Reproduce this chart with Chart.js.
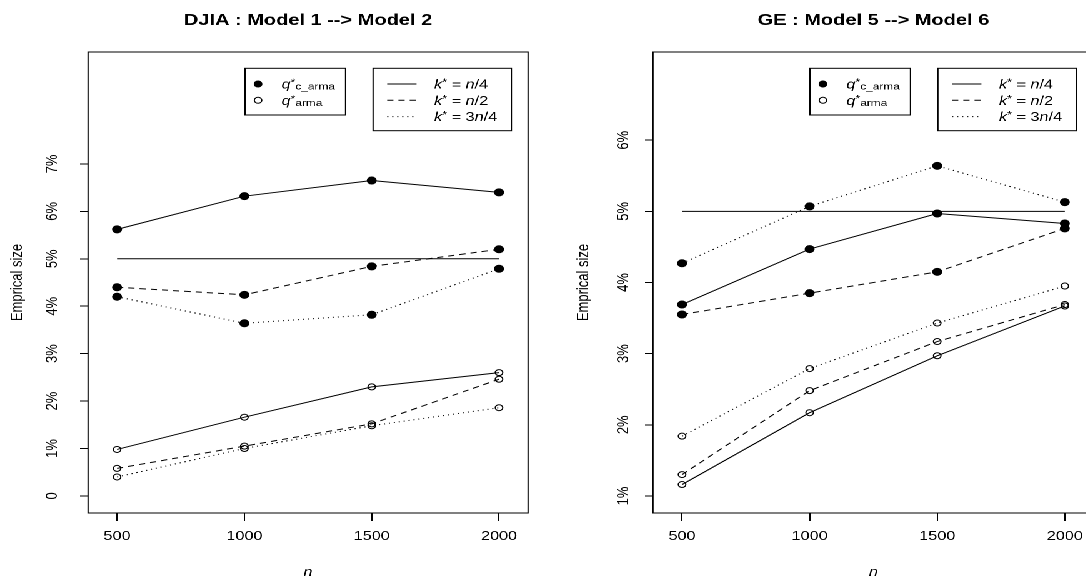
<!DOCTYPE html>
<html>
<head>
<meta charset="utf-8">
<script src="https://cdn.jsdelivr.net/npm/chart.js@4.4.1/dist/chart.umd.min.js"></script>
<style>
  html, body { margin: 0; padding: 0; background: #fff; overflow: hidden; width: 1086px; height: 576px; }
  /* the reference is stretched sideways, so draw narrow and widen the whole stage */
  #stage { position: absolute; left: 0; top: 0; width: 889px; height: 590px; transform: scaleX(1.25); transform-origin: 0 0; }
  #chartDJIA { position: absolute; left: 0; top: 0; }
  #chartGE { position: absolute; left: 434px; top: 0; }
</style>
</head>
<body>
<div id="stage">
  <canvas id="chartDJIA" width="434" height="590"></canvas>
  <canvas id="chartGE" width="455" height="590"></canvas>
</div>
<script>
const nValues = [500, 1000, 1500, 2000];
const nominalSize = 5;

// DJIA : Model 1 --> Model 2, empirical size in %
const djiaCarmaN4 = [5.62, 6.32, 6.65, 6.40];
const djiaCarmaN2 = [4.40, 4.24, 4.84, 5.20];
const djiaCarma3N4 = [4.20, 3.64, 3.82, 4.79];
const djiaArmaN4 = [0.98, 1.66, 2.30, 2.60];
const djiaArmaN2 = [0.58, 1.05, 1.52, 2.46];
const djiaArma3N4 = [0.40, 1.00, 1.48, 1.86];

// GE : Model 5 --> Model 6
const geCarmaN4 = [3.69, 4.47, 4.97, 4.83];
const geCarmaN2 = [3.55, 3.85, 4.15, 4.76];
const geCarma3N4 = [4.27, 5.07, 5.64, 5.13];
const geArmaN4 = [1.16, 2.17, 2.97, 3.67];
const geArmaN2 = [1.30, 2.48, 3.17, 3.69];
const geArma3N4 = [1.84, 2.79, 3.43, 3.95];

const xTicks = [500, 1000, 1500, 2000];
const xTickLabels = ['500', '1000', '1500', '2000'];
const djiaYTicks = [0, 1, 2, 3, 4, 5, 6, 7];
const djiaYLabels = ['0', '1%', '2%', '3%', '4%', '5%', '6%', '7%'];
const geYTicks = [1, 2, 3, 4, 5, 6];
const geYLabels = ['1%', '2%', '3%', '4%', '5%', '6%'];
const qSubscripts = ['c_arma', 'arma'];
const kLabels = ['n/4', 'n/2', '3n/4'];

const FONT = '"Liberation Sans", Arial, Helvetica, sans-serif';
const dashes = [[], [5, 4], [1, 3]];

function points(ys) {
  return nValues.map((n, i) => ({ x: n, y: ys[i] }));
}

function series(label, ys, dash, filled) {
  return {
    label: label,
    data: points(ys),
    borderColor: '#000',
    borderWidth: 1,
    borderDash: dash,
    pointRadius: filled ? 3.5 : 3,
    pointBorderWidth: 1,
    pointBorderColor: '#000',
    pointBackgroundColor: filled ? '#000' : 'rgba(0,0,0,0)',
    fill: false,
    tension: 0
  };
}

function nominalLine() {
  return {
    label: 'nominal',
    data: [{ x: nValues[0], y: nominalSize }, { x: nValues[nValues.length - 1], y: nominalSize }],
    borderColor: '#000',
    borderWidth: 1,
    pointRadius: 0,
    fill: false
  };
}

// draws a small plotmath-like string: list of [text, size, italic, dy]
function drawParts(ctx, x, y, parts) {
  let cx = x;
  parts.forEach(p => {
    ctx.font = (p[2] ? 'italic ' : '') + p[1] + 'px ' + FONT;
    ctx.fillText(p[0], cx, y + p[3]);
    cx += ctx.measureText(p[0]).width;
  });
}

const framePlugin = {
  id: 'frame',
  afterDraw(chart) {
    const ctx = chart.ctx;
    const a = chart.chartArea;
    ctx.save();
    ctx.strokeStyle = '#000';
    ctx.lineWidth = 1;
    ctx.strokeRect(a.left, a.top, a.right - a.left, a.bottom - a.top);

    // legend boxes
    const top = a.top + 16.3;
    const rows = [a.top + 32, a.top + 48.3, a.top + 64.6];
    ctx.fillStyle = '#fff';
    ctx.fillRect(a.left + 125.6, top, 80.4, 46.7);
    ctx.strokeRect(a.left + 125.6, top, 80.4, 46.7);
    ctx.fillRect(a.left + 228, top, 110.7, 62.4);
    ctx.strokeRect(a.left + 228, top, 110.7, 62.4);

    ctx.fillStyle = '#000';
    ctx.textBaseline = 'alphabetic';
    ctx.textAlign = 'left';
    qSubscripts.forEach((sub, i) => {
      ctx.beginPath();
      ctx.arc(a.left + 136, rows[i], i === 0 ? 3.5 : 3, 0, Math.PI * 2);
      if (i === 0) ctx.fill(); else ctx.stroke();
      drawParts(ctx, a.left + 154.7, rows[i] + 4.5, [
        ['q', 13, true, 0], ['*', 10, false, -3], [sub, 9.5, false, 1]
      ]);
    });

    kLabels.forEach((lab, i) => {
      ctx.setLineDash(dashes[i]);
      ctx.beginPath();
      ctx.moveTo(a.left + 239.3, rows[i]);
      ctx.lineTo(a.left + 262.8, rows[i]);
      ctx.stroke();
      ctx.setLineDash([]);
      const bits = lab.split('n');
      drawParts(ctx, a.left + 276.8, rows[i] + 4.5, [
        ['k', 13, true, 0], ['*', 10, false, -3], [' = ' + bits[0], 13, false, 0],
        ['n', 13, true, 0], [bits[1], 13, false, 0]
      ]);
    });
    ctx.restore();
  }
};

function makeChart(canvas, cfg) {
  return new Chart(canvas, {
    type: 'line',
    data: {
      datasets: [
        series('q* c_arma, k*=n/4', cfg.carma[0], dashes[0], true),
        series('q* c_arma, k*=n/2', cfg.carma[1], dashes[1], true),
        series('q* c_arma, k*=3n/4', cfg.carma[2], dashes[2], true),
        series('q* arma, k*=n/4', cfg.arma[0], dashes[0], false),
        series('q* arma, k*=n/2', cfg.arma[1], dashes[1], false),
        series('q* arma, k*=3n/4', cfg.arma[2], dashes[2], false),
        nominalLine()
      ]
    },
    options: {
      responsive: false,
      animation: false,
      devicePixelRatio: 2,
      layout: { padding: { left: 0, right: cfg.padRight, top: 0, bottom: 0 } },
      plugins: {
        legend: { display: false },
        tooltip: { enabled: false },
        title: {
          display: true, text: cfg.title, fullSize: false, color: '#000',
          font: { family: FONT, size: 16, weight: 'bold', lineHeight: 1.2 },
          padding: { top: 11, bottom: 21.8 }
        }
      },
      scales: {
        x: {
          type: 'linear', min: 386, max: 2114,
          afterBuildTicks: s => { s.ticks = xTicks.map(v => ({ value: v })); },
          afterFit: s => { s.height = 77; },
          grid: { drawOnChartArea: false, drawTicks: true, tickLength: 8, color: '#000', lineWidth: 1 },
          border: { display: false },
          ticks: {
            autoSkip: false, maxRotation: 0, padding: 7.8, color: '#000',
            font: { family: FONT, size: 13 },
            callback: (v, i) => xTickLabels[i]
          },
          title: {
            display: true, text: 'n', color: '#000',
            font: { family: FONT, size: 13, style: 'italic' },
            padding: { top: 0, bottom: 9.7 }
          }
        },
        y: {
          type: 'linear', min: cfg.yMin, max: cfg.yMax,
          afterBuildTicks: s => { s.ticks = cfg.yTicks.map(v => ({ value: v })); },
          afterFit: s => { s.width = cfg.yWidth; },
          grid: { drawOnChartArea: false, drawTicks: true, tickLength: 6.4, color: '#000', lineWidth: 1 },
          border: { display: false },
          ticks: {
            autoSkip: false, minRotation: 90, maxRotation: 90, crossAlign: 'center',
            padding: cfg.yTickPad, color: '#000',
            font: { family: FONT, size: 13 },
            callback: (v, i) => cfg.yLabels[i]
          },
          title: {
            display: true, text: 'Emprical size', color: '#000',
            font: { family: FONT, size: 13 },
            padding: { top: cfg.yTitlePad, bottom: 0 }
          }
        }
      }
    },
    plugins: [framePlugin]
  });
}

var chart1 = makeChart(document.getElementById('chartDJIA'), {
  title: 'DJIA : Model 1 --> Model 2',
  carma: [djiaCarmaN4, djiaCarmaN2, djiaCarma3N4],
  arma: [djiaArmaN4, djiaArmaN2, djiaArma3N4],
  yMin: -0.36, yMax: 9.36, yTicks: djiaYTicks, yLabels: djiaYLabels,
  yWidth: 70.4, yTickPad: 12.8, yTitlePad: 6.2, padRight: 11.6
});

var chart2 = makeChart(document.getElementById('chartGE'), {
  title: 'GE : Model 5 --> Model 6',
  carma: [geCarmaN4, geCarmaN2, geCarma3N4],
  arma: [geArmaN4, geArmaN2, geArma3N4],
  yMin: 0.76, yMax: 7.24, yTicks: geYTicks, yLabels: geYLabels,
  yWidth: 88.4, yTickPad: 7.8, yTitlePad: 24.9, padRight: 13.8
});
</script>
</body>
</html>
